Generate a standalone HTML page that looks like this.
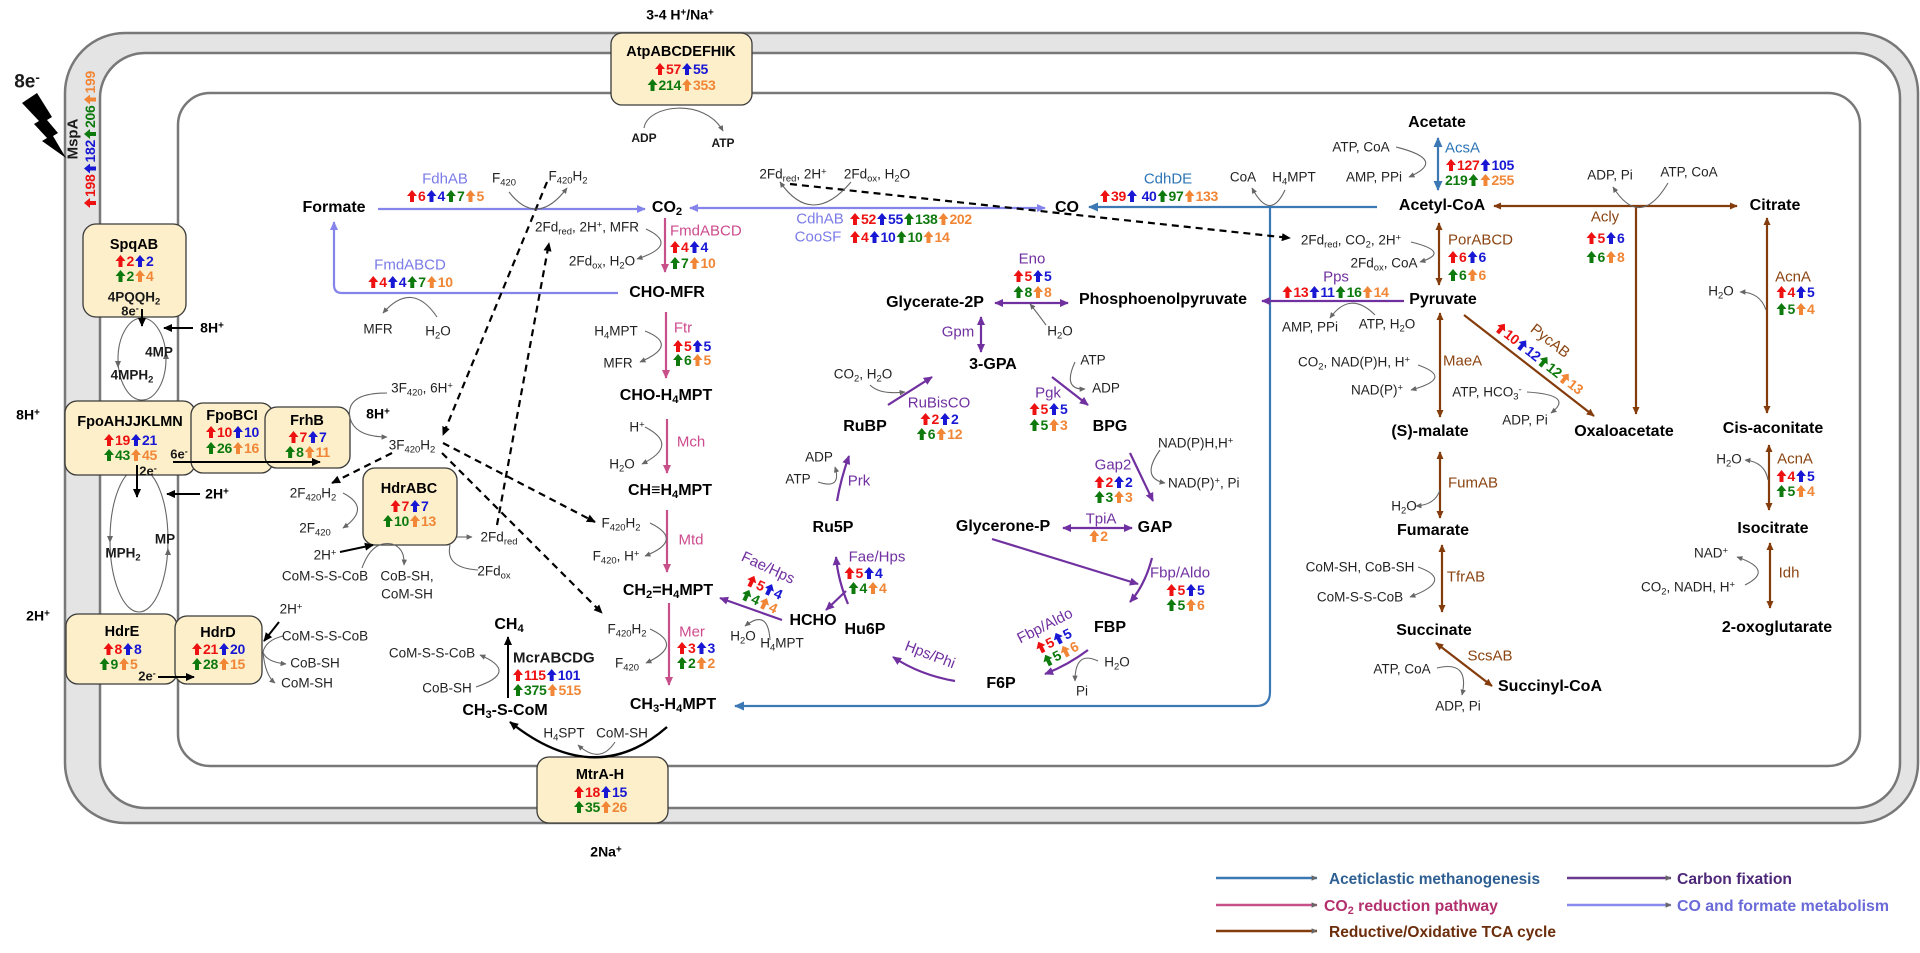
<!DOCTYPE html>
<html><head><meta charset="utf-8"><style>
body{margin:0;width:1920px;height:953px;position:relative;overflow:hidden;background:#fff;font-family:"Liberation Sans","DejaVu Sans",sans-serif;color:#1a1a1a}
svg{position:absolute;left:0;top:0}
.t,.l{position:absolute;white-space:nowrap;line-height:1}
.t{transform:translate(-50%,-50%)}
.l{transform:translateY(-50%)}
.m{font-weight:bold;font-size:16px;color:#000}
.k{font-weight:bold;font-size:14.5px;color:#000}
.s{font-size:13.5px;color:#222}
.e{font-size:15px}
.bl{font-weight:bold;font-size:14px;color:#000}
.n{font-weight:bold;font-size:14px;letter-spacing:-.3px}
.n i{display:inline-block;width:10px;height:12px;background:currentColor;clip-path:polygon(50% 0,100% 50%,70% 50%,70% 100%,30% 100%,30% 50%,0 50%);vertical-align:-1px;margin:0 1px}
.r{color:#ee1111}.b{color:#1717d4}.g{color:#0e7a0e}.o{color:#f08636}
.cl{color:#7b7be8}.cp{color:#cd4b8d}.cu{color:#7030a0}.cr{color:#8b4513}.ca{color:#2e75b6}
sub,sup{font-size:70%;position:relative;vertical-align:baseline}
sub{top:.3em}sup{top:-.45em}
</style></head><body>
<svg width="1920" height="953" viewBox="0 0 1920 953">
<defs>
<marker id="k" viewBox="0 0 10 10" refX="9" refY="5" markerWidth="9" markerHeight="9" markerUnits="userSpaceOnUse" orient="auto-start-reverse"><path d="M0,0.5L10,5L0,9.5z" fill="#000"/></marker>
<marker id="L" viewBox="0 0 10 10" refX="9" refY="5" markerWidth="9" markerHeight="9" markerUnits="userSpaceOnUse" orient="auto-start-reverse"><path d="M0,0.5L10,5L0,9.5z" fill="#8484ea"/></marker>
<marker id="P" viewBox="0 0 10 10" refX="9" refY="5" markerWidth="9" markerHeight="9" markerUnits="userSpaceOnUse" orient="auto-start-reverse"><path d="M0,0.5L10,5L0,9.5z" fill="#c8508a"/></marker>
<marker id="U" viewBox="0 0 10 10" refX="9" refY="5" markerWidth="9" markerHeight="9" markerUnits="userSpaceOnUse" orient="auto-start-reverse"><path d="M0,0.5L10,5L0,9.5z" fill="#7030a0"/></marker>
<marker id="R" viewBox="0 0 10 10" refX="9" refY="5" markerWidth="8" markerHeight="8" markerUnits="userSpaceOnUse" orient="auto-start-reverse"><path d="M0,0.5L10,5L0,9.5z" fill="#843c0c"/></marker>
<marker id="A" viewBox="0 0 10 10" refX="9" refY="5" markerWidth="10" markerHeight="10" markerUnits="userSpaceOnUse" orient="auto-start-reverse"><path d="M0,0.5L10,5L0,9.5z" fill="#3b78b4"/></marker>
<marker id="G" viewBox="0 0 10 10" refX="9" refY="5" markerWidth="6" markerHeight="6" markerUnits="userSpaceOnUse" orient="auto-start-reverse"><path d="M0,0.5L10,5L0,9.5z" fill="#666"/></marker>
</defs>
<!-- membranes -->
<rect x="65" y="33" width="1853" height="790" rx="60" fill="#e4e4e4" stroke="#787878" stroke-width="2.5"/>
<rect x="100" y="53" width="1800" height="755" rx="45" fill="#fff" stroke="#787878" stroke-width="2.5"/>
<rect x="178" y="93" width="1682" height="673" rx="32" fill="none" stroke="#787878" stroke-width="2.5"/>
<!-- lightning -->
<polygon points="22,103 37,93 52,117 47,120 58,133 53,136 66,158 42,141 47,138 34,124 39,121" fill="#000"/>
<!-- loops -->
<g fill="none" stroke="#666" stroke-width="1.1">
<ellipse cx="142" cy="359" rx="24" ry="41"/>
<ellipse cx="139" cy="540" rx="29" ry="72"/>
</g>
<g fill="#666">
<polygon points="115,361 121,361 118,368"/>
<polygon points="163,359 169,359 166,352"/>
<polygon points="107,536 113,536 110,543"/>
<polygon points="165,555 171,555 168,548"/>
</g>
<!-- boxes -->
<g fill="#fcefca" stroke="#3a3a3a" stroke-width="1.3">
<rect x="611" y="33" width="141" height="72" rx="11"/>
<rect x="83" y="224" width="103" height="93" rx="13"/>
<rect x="65" y="401" width="130" height="74" rx="12"/>
<rect x="191" y="403" width="82" height="70" rx="12"/>
<rect x="265" y="407" width="85" height="61" rx="12"/>
<rect x="363" y="468" width="94" height="77" rx="12"/>
<rect x="66" y="614" width="111" height="70" rx="12"/>
<rect x="175" y="616" width="87" height="68" rx="12"/>
<rect x="537" y="757" width="131" height="66" rx="12"/>
</g>
<!-- lavender -->
<g fill="none" stroke="#8484ea" stroke-width="2.2">
<path d="M378,209H645" marker-end="url(#L)"/>
<path d="M618,293H342Q334,293 334,285V222" marker-end="url(#L)"/>
<path d="M690,208H1045" marker-start="url(#L)" marker-end="url(#L)"/>
</g>
<!-- pink -->
<g fill="none" stroke="#c8508a" stroke-width="2.2" marker-end="url(#P)">
<path d="M665,218V272"/>
<path d="M666,312V378"/>
<path d="M667,419V473"/>
<path d="M667,510V572"/>
<path d="M669,603V685"/>
</g>
<!-- blue -->
<g fill="none" stroke="#3b78b4" stroke-width="2.2">
<path d="M1377,207H1089" marker-end="url(#A)"/>
<path d="M1270,207V692Q1270,706 1256,706H735" marker-end="url(#A)"/>
<path d="M1438,138V190" marker-start="url(#A)" marker-end="url(#A)"/>
</g>
<!-- brown -->
<g fill="none" stroke="#843c0c" stroke-width="2.2">
<path d="M1494,206H1737" marker-start="url(#R)" marker-end="url(#R)"/>
<path d="M1636,206V414" marker-end="url(#R)"/>
<path d="M1439,223V285" marker-start="url(#R)" marker-end="url(#R)"/>
<path d="M1440,313V417" marker-start="url(#R)" marker-end="url(#R)"/>
<path d="M1464,315L1594,416" marker-end="url(#R)"/>
<path d="M1767,413V218" marker-start="url(#R)" marker-end="url(#R)"/>
<path d="M1769,445V510" marker-start="url(#R)" marker-end="url(#R)"/>
<path d="M1770,543V608" marker-start="url(#R)" marker-end="url(#R)"/>
<path d="M1440,452V518" marker-start="url(#R)" marker-end="url(#R)"/>
<path d="M1442,545V612" marker-start="url(#R)" marker-end="url(#R)"/>
<path d="M1436,643L1492,686" marker-start="url(#R)" marker-end="url(#R)"/>
</g>
<!-- purple -->
<g fill="none" stroke="#7030a0" stroke-width="2.2">
<path d="M1404,301H1262" marker-end="url(#U)"/>
<path d="M995,303H1068" marker-start="url(#U)" marker-end="url(#U)"/>
<path d="M981,317V352" marker-start="url(#U)" marker-end="url(#U)"/>
<path d="M888,405L932,377" marker-end="url(#U)"/>
<path d="M1052,377L1088,405" marker-end="url(#U)"/>
<path d="M1130,453L1153,501" marker-end="url(#U)"/>
<path d="M1063,528H1132" marker-start="url(#U)" marker-end="url(#U)"/>
<path d="M992,539L1138,584" marker-end="url(#U)"/>
<path d="M1152,558Q1145,585 1130,602" marker-end="url(#U)"/>
<path d="M1088,650Q1068,665 1045,674" marker-end="url(#U)"/>
<path d="M955,681Q920,675 893,657" marker-end="url(#U)"/>
<path d="M848,604Q838,580 836,557" marker-end="url(#U)"/>
<path d="M846,591L826,610" marker-end="url(#U)"/>
<path d="M782,620L720,598" marker-end="url(#U)"/>
<path d="M837,501Q841,478 849,456" marker-end="url(#U)"/>
</g>
<!-- black solid -->
<g fill="none" stroke="#000" stroke-width="2" marker-end="url(#k)">
<path d="M508,698V637"/>
<path d="M667,727Q595,790 510,722" stroke-width="2.4"/>
<path d="M142,309V326"/>
<path d="M193,328H164"/>
<path d="M137,465V497"/>
<path d="M200,494H167"/>
<path d="M173,462H320"/>
<path d="M158,677H194"/>
<path d="M279,622L264,641"/>
<path d="M340,552L373,545"/>
</g>
<!-- dashed -->
<g fill="none" stroke="#000" stroke-width="2.2" stroke-dasharray="7 5" marker-end="url(#k)">
<path d="M547,182L443,435"/>
<path d="M497,525L549,243"/>
<path d="M443,443L595,522"/>
<path d="M442,453L602,613"/>
<path d="M392,453L332,483"/>
<path d="M790,184L1290,238"/>
</g>
<!-- gray side arcs -->
<g fill="none" stroke="#666" stroke-width="1.1" marker-end="url(#G)">
<path d="M644,128C648,104 705,98 723,131"/>
<path d="M509,192Q537,228 567,188"/>
<path d="M437,317Q412,280 383,313"/>
<path d="M646,229Q680,245 637,259"/>
<path d="M851,182Q812,228 780,182"/>
<path d="M1285,190Q1270,222 1252,188"/>
<path d="M1396,147Q1448,160 1409,177"/>
<path d="M1668,183Q1640,230 1613,187"/>
<path d="M1411,242Q1452,252 1420,262"/>
<path d="M1375,315Q1350,290 1330,318"/>
<path d="M1418,365Q1455,378 1411,390"/>
<path d="M1527,392Q1575,395 1551,413"/>
<path d="M1766,310Q1760,292 1740,292"/>
<path d="M1768,480Q1765,462 1745,460"/>
<path d="M1745,585Q1775,570 1737,557"/>
<path d="M1440,490Q1435,505 1416,506"/>
<path d="M1418,567Q1455,580 1410,597"/>
<path d="M1437,668Q1470,660 1462,695"/>
<path d="M645,331Q680,345 640,362"/>
<path d="M645,427Q680,445 642,464"/>
<path d="M650,523Q685,540 645,556"/>
<path d="M650,629Q685,645 646,663"/>
<path d="M476,687Q520,672 480,655"/>
<path d="M615,742Q600,765 578,745"/>
<path d="M1046,325Q1035,310 1030,304"/>
<path d="M870,385Q880,395 905,392"/>
<path d="M1075,362Q1062,390 1085,389"/>
<path d="M1160,450Q1140,478 1165,483"/>
<path d="M818,482Q842,490 835,467"/>
<path d="M1098,661Q1075,650 1075,681"/>
<path d="M770,640Q768,608 745,626"/>
<path d="M457,537H472"/>
<path d="M362,568Q372,540 392,544Q405,548 404,565"/>
<path d="M343,493Q372,508 343,528"/>
<path d="M387,393Q345,393 350,418Q355,437 387,437"/>
<path d="M283,636Q266,640 263,652Q266,662 286,664"/>
<path d="M263,652Q265,675 275,683"/>
</g>
<path d="M450,545Q445,568 478,570" fill="none" stroke="#666" stroke-width="1.1"/>
<!-- legend -->
<g stroke-width="2.5" fill="none">
<path d="M1216,878H1317" stroke="#3b78b4" marker-end="url(#G)"/>
<path d="M1567,878H1671" stroke="#6a3a8e" marker-end="url(#G)"/>
<path d="M1216,905H1317" stroke="#c8508a" marker-end="url(#G)"/>
<path d="M1567,905H1671" stroke="#8a8aee" marker-end="url(#G)"/>
<path d="M1216,931H1317" stroke="#843c0c" marker-end="url(#G)"/>
</g>
<g font-family="Liberation Sans, sans-serif" font-weight="bold" font-size="16">
<text x="1329" y="884" textLength="211" lengthAdjust="spacingAndGlyphs" fill="#2e5f92">Aceticlastic methanogenesis</text>
<text x="1677" y="884" textLength="115" lengthAdjust="spacingAndGlyphs" fill="#4e2878">Carbon fixation</text>
<text x="1324" y="911" textLength="174" lengthAdjust="spacingAndGlyphs" fill="#b3306e">CO<tspan font-size="11" dy="3">2</tspan><tspan dy="-3"> reduction pathway</tspan></text>
<text x="1677" y="911" textLength="212" lengthAdjust="spacingAndGlyphs" fill="#6a6ad8">CO and formate metabolism</text>
<text x="1329" y="937" textLength="227" lengthAdjust="spacingAndGlyphs" fill="#6b2d0a">Reductive/Oxidative TCA cycle</text>
</g>
</svg>

<!-- ===== TEXT ===== -->
<div class="t bl" style="left:680px;top:15px">3-4 H<sup>+</sup>/Na<sup>+</sup></div>
<div class="t k" style="left:681px;top:52px">AtpABCDEFHIK</div>
<div class="t n" style="left:681px;top:69px"><span class=r><i></i>57</span><span class=b><i></i>55</span></div>
<div class="t n" style="left:681px;top:85px"><span class=g><i></i>214</span><span class=o><i></i>353</span></div>
<div class="t" style="left:644px;top:138px;font-size:12px;font-weight:bold">ADP</div>
<div class="t" style="left:723px;top:143px;font-size:12px;font-weight:bold">ATP</div>

<div class="t" style="left:27px;top:82px;font-weight:bold;font-size:19px">8e<sup>-</sup></div>
<div class="t" style="left:73px;top:139px;font-weight:bold;font-size:15px;transform:translate(-50%,-50%) rotate(-90deg)">MspA</div>
<div class="t n" style="left:90px;top:140px;transform:translate(-50%,-50%) rotate(-90deg)"><span class=r><i></i>198</span><span class=b><i></i>182</span><span class=g><i></i>206</span><span class=o><i></i>199</span></div>

<div class="t k" style="left:134px;top:245px">SpqAB</div>
<div class="t n" style="left:134px;top:261px"><span class=r><i></i>2</span><span class=b><i></i>2</span></div>
<div class="t n" style="left:134px;top:276px"><span class=g><i></i>2</span><span class=o><i></i>4</span></div>
<div class="t" style="left:134px;top:297px;font-weight:bold;font-size:13.5px">4PQQH<sub>2</sub></div>
<div class="t" style="left:130px;top:311px;font-weight:bold;font-size:13px">8e<sup>-</sup></div>
<div class="t bl" style="left:212px;top:328px">8H<sup>+</sup></div>
<div class="t" style="left:159px;top:352px;font-weight:bold;font-size:13.5px">4MP</div>
<div class="t" style="left:132px;top:375px;font-weight:bold;font-size:13.5px">4MPH<sub>2</sub></div>
<div class="t bl" style="left:28px;top:415px">8H<sup>+</sup></div>

<div class="t k" style="left:130px;top:422px">FpoAHJJKLMN</div>
<div class="t n" style="left:130px;top:440px"><span class=r><i></i>19</span><span class=b><i></i>21</span></div>
<div class="t n" style="left:130px;top:455px"><span class=g><i></i>43</span><span class=o><i></i>45</span></div>
<div class="t" style="left:179px;top:454px;font-weight:bold;font-size:13px">6e<sup>-</sup></div>
<div class="t" style="left:148px;top:471px;font-weight:bold;font-size:13px">2e<sup>-</sup></div>
<div class="t k" style="left:232px;top:416px">FpoBCI</div>
<div class="t n" style="left:232px;top:432px"><span class=r><i></i>10</span><span class=b><i></i>10</span></div>
<div class="t n" style="left:232px;top:448px"><span class=g><i></i>26</span><span class=o><i></i>16</span></div>
<div class="t k" style="left:307px;top:421px">FrhB</div>
<div class="t n" style="left:307px;top:437px"><span class=r><i></i>7</span><span class=b><i></i>7</span></div>
<div class="t n" style="left:307px;top:452px"><span class=g><i></i>8</span><span class=o><i></i>11</span></div>

<div class="t bl" style="left:217px;top:494px">2H<sup>+</sup></div>
<div class="t" style="left:165px;top:539px;font-weight:bold;font-size:13.5px">MP</div>
<div class="t" style="left:123px;top:553px;font-weight:bold;font-size:13.5px">MPH<sub>2</sub></div>
<div class="t bl" style="left:38px;top:616px">2H<sup>+</sup></div>

<div class="t k" style="left:122px;top:632px">HdrE</div>
<div class="t n" style="left:122px;top:649px"><span class=r><i></i>8</span><span class=b><i></i>8</span></div>
<div class="t n" style="left:118px;top:664px"><span class=g><i></i>9</span><span class=o><i></i>5</span></div>
<div class="t" style="left:147px;top:676px;font-weight:bold;font-size:13px">2e<sup>-</sup></div>
<div class="t k" style="left:218px;top:633px">HdrD</div>
<div class="t n" style="left:218px;top:649px"><span class=r><i></i>21</span><span class=b><i></i>20</span></div>
<div class="t n" style="left:218px;top:664px"><span class=g><i></i>28</span><span class=o><i></i>15</span></div>
<div class="t s" style="left:291px;top:609px">2H<sup>+</sup></div>
<div class="t s" style="left:325px;top:636px">CoM-S-S-CoB</div>
<div class="t s" style="left:315px;top:663px">CoB-SH</div>
<div class="t s" style="left:307px;top:683px">CoM-SH</div>

<div class="t s" style="left:313px;top:493px">2F<sub>420</sub>H<sub>2</sub></div>
<div class="t s" style="left:315px;top:528px">2F<sub>420</sub></div>
<div class="t s" style="left:325px;top:555px">2H<sup>+</sup></div>
<div class="t s" style="left:325px;top:576px">CoM-S-S-CoB</div>
<div class="t s" style="left:407px;top:576px">CoB-SH,</div>
<div class="t s" style="left:407px;top:594px">CoM-SH</div>
<div class="t k" style="left:409px;top:489px">HdrABC</div>
<div class="t n" style="left:409px;top:506px"><span class=r><i></i>7</span><span class=b><i></i>7</span></div>
<div class="t n" style="left:409px;top:521px"><span class=g><i></i>10</span><span class=o><i></i>13</span></div>
<div class="t s" style="left:499px;top:537px">2Fd<sub>red</sub></div>
<div class="t s" style="left:494px;top:571px">2Fd<sub>ox</sub></div>
<div class="t s" style="left:422px;top:388px">3F<sub>420</sub>, 6H<sup>+</sup></div>
<div class="t bl" style="left:378px;top:414px">8H<sup>+</sup></div>
<div class="t s" style="left:412px;top:445px">3F<sub>420</sub>H<sub>2</sub></div>
<div class="t s" style="left:378px;top:329px">MFR</div>
<div class="t s" style="left:438px;top:331px">H<sub>2</sub>O</div>

<!-- formate / CO2 -->
<div class="t m" style="left:334px;top:208px">Formate</div>
<div class="t m" style="left:667px;top:208px">CO<sub>2</sub></div>
<div class="t m" style="left:667px;top:293px">CHO-MFR</div>
<div class="t e cl" style="left:445px;top:179px">FdhAB</div>
<div class="t n" style="left:445px;top:196px"><span class=r><i></i>6</span><span class=b><i></i>4</span><span class=g><i></i>7</span><span class=o><i></i>5</span></div>
<div class="t s" style="left:504px;top:178px">F<sub>420</sub></div>
<div class="t s" style="left:568px;top:176px">F<sub>420</sub>H<sub>2</sub></div>
<div class="t e cl" style="left:410px;top:265px">FmdABCD</div>
<div class="t n" style="left:410px;top:282px"><span class=r><i></i>4</span><span class=b><i></i>4</span><span class=g><i></i>7</span><span class=o><i></i>10</span></div>
<div class="t s" style="left:587px;top:227px">2Fd<sub>red</sub>, 2H<sup>+</sup>, MFR</div>
<div class="t s" style="left:602px;top:261px">2Fd<sub>ox</sub>, H<sub>2</sub>O</div>
<div class="l e cp" style="left:670px;top:231px">FmdABCD</div>
<div class="l n" style="left:669px;top:247px"><span class=r><i></i>4</span><span class=b><i></i>4</span></div>
<div class="l n" style="left:669px;top:263px"><span class=g><i></i>7</span><span class=o><i></i>10</span></div>

<div class="t s" style="left:793px;top:174px">2Fd<sub>red</sub>, 2H<sup>+</sup></div>
<div class="t s" style="left:877px;top:174px">2Fd<sub>ox</sub>, H<sub>2</sub>O</div>
<div class="t e cl" style="left:820px;top:219px">CdhAB</div>
<div class="l n" style="left:849px;top:219px"><span class=r><i></i>52</span><span class=b><i></i>55</span><span class=g><i></i>138</span><span class=o><i></i>202</span></div>
<div class="t e cl" style="left:818px;top:237px">CooSF</div>
<div class="l n" style="left:849px;top:237px"><span class=r><i></i>4</span><span class=b><i></i>10</span><span class=g><i></i>10</span><span class=o><i></i>14</span></div>
<div class="t m" style="left:1067px;top:208px">CO</div>
<div class="t e ca" style="left:1168px;top:179px">CdhDE</div>
<div class="l n" style="left:1099px;top:196px"><span class=r><i></i>39</span><span class=b><i></i> 40</span><span class=g><i></i>97</span><span class=o><i></i>133</span></div>
<div class="t s" style="left:1243px;top:177px">CoA</div>
<div class="t s" style="left:1294px;top:177px">H<sub>4</sub>MPT</div>

<!-- acetate / TCA -->
<div class="t m" style="left:1437px;top:123px">Acetate</div>
<div class="t m" style="left:1442px;top:206px">Acetyl-CoA</div>
<div class="l e ca" style="left:1445px;top:148px">AcsA</div>
<div class="l n" style="left:1445px;top:165px"><span class=r><i></i>127</span><span class=b><i></i>105</span></div>
<div class="l n" style="left:1445px;top:180px"><span class=g>219<i></i></span><span class=o><i></i>255</span></div>
<div class="t s" style="left:1361px;top:147px">ATP, CoA</div>
<div class="t s" style="left:1374px;top:177px">AMP, PPi</div>
<div class="t m" style="left:1775px;top:206px">Citrate</div>
<div class="t s" style="left:1610px;top:175px">ADP, Pi</div>
<div class="t s" style="left:1689px;top:172px">ATP, CoA</div>
<div class="t e cr" style="left:1605px;top:217px">Acly</div>
<div class="t n" style="left:1605px;top:238px"><span class=r><i></i>5</span><span class=b><i></i>6</span></div>
<div class="t n" style="left:1605px;top:257px"><span class=g><i></i>6</span><span class=o><i></i>8</span></div>
<div class="t s" style="left:1351px;top:240px">2Fd<sub>red</sub>, CO<sub>2</sub>, 2H<sup>+</sup></div>
<div class="t s" style="left:1384px;top:263px">2Fd<sub>ox</sub>, CoA</div>
<div class="l e cr" style="left:1448px;top:240px">PorABCD</div>
<div class="l n" style="left:1447px;top:257px"><span class=r><i></i>6</span><span class=b><i></i>6</span></div>
<div class="l n" style="left:1447px;top:275px"><span class=g><i></i>6</span><span class=o><i></i>6</span></div>
<div class="t m" style="left:1443px;top:300px">Pyruvate</div>
<div class="t m" style="left:1163px;top:300px">Phosphoenolpyruvate</div>
<div class="t e cu" style="left:1336px;top:277px">Pps</div>
<div class="t n" style="left:1335px;top:292px"><span class=r><i></i>13</span><span class=b><i></i>11</span><span class=g><i></i>16</span><span class=o><i></i>14</span></div>
<div class="t s" style="left:1310px;top:327px">AMP, PPi</div>
<div class="t s" style="left:1387px;top:324px">ATP, H<sub>2</sub>O</div>
<div class="l e cr" style="left:1443px;top:361px">MaeA</div>
<div class="t s" style="left:1354px;top:362px">CO<sub>2</sub>, NAD(P)H, H<sup>+</sup></div>
<div class="t s" style="left:1377px;top:390px">NAD(P)<sup>+</sup></div>
<div class="t e cr" style="left:1550px;top:341px;transform:translate(-50%,-50%) rotate(38deg)">PycAB</div>
<div class="t n" style="left:1539px;top:358px;transform:translate(-50%,-50%) rotate(38deg)"><span class=r><i></i>10</span><span class=b><i></i>12</span><span class=g><i></i>12</span><span class=o><i></i>13</span></div>
<div class="t s" style="left:1487px;top:392px">ATP, HCO<sub>3</sub><sup>-</sup></div>
<div class="t s" style="left:1525px;top:420px">ADP, Pi</div>
<div class="t m" style="left:1430px;top:432px">(S)-malate</div>
<div class="t m" style="left:1624px;top:432px">Oxaloacetate</div>
<div class="t m" style="left:1773px;top:429px">Cis-aconitate</div>
<div class="t e cr" style="left:1793px;top:277px">AcnA</div>
<div class="t n" style="left:1795px;top:292px"><span class=r><i></i>4</span><span class=b><i></i>5</span></div>
<div class="t n" style="left:1795px;top:309px"><span class=g><i></i>5</span><span class=o><i></i>4</span></div>
<div class="t s" style="left:1721px;top:291px">H<sub>2</sub>O</div>
<div class="t e cr" style="left:1795px;top:459px">AcnA</div>
<div class="t n" style="left:1795px;top:476px"><span class=r><i></i>4</span><span class=b><i></i>5</span></div>
<div class="t n" style="left:1795px;top:491px"><span class=g><i></i>5</span><span class=o><i></i>4</span></div>
<div class="t s" style="left:1729px;top:459px">H<sub>2</sub>O</div>
<div class="t m" style="left:1773px;top:529px">Isocitrate</div>
<div class="t e cr" style="left:1789px;top:573px">Idh</div>
<div class="t s" style="left:1711px;top:553px">NAD<sup>+</sup></div>
<div class="t s" style="left:1688px;top:587px">CO<sub>2</sub>, NADH, H<sup>+</sup></div>
<div class="t m" style="left:1777px;top:628px">2-oxoglutarate</div>
<div class="t e cr" style="left:1473px;top:483px">FumAB</div>
<div class="t s" style="left:1404px;top:506px">H<sub>2</sub>O</div>
<div class="t m" style="left:1433px;top:531px">Fumarate</div>
<div class="t e cr" style="left:1466px;top:577px">TfrAB</div>
<div class="t s" style="left:1360px;top:567px">CoM-SH, CoB-SH</div>
<div class="t s" style="left:1360px;top:597px">CoM-S-S-CoB</div>
<div class="t m" style="left:1434px;top:631px">Succinate</div>
<div class="t e cr" style="left:1490px;top:656px">ScsAB</div>
<div class="t s" style="left:1402px;top:669px">ATP, CoA</div>
<div class="t s" style="left:1458px;top:706px">ADP, Pi</div>
<div class="t m" style="left:1550px;top:687px">Succinyl-CoA</div>

<!-- methanogenesis column -->
<div class="t e cp" style="left:683px;top:328px">Ftr</div>
<div class="l n" style="left:672px;top:346px"><span class=r><i></i>5</span><span class=b><i></i>5</span></div>
<div class="l n" style="left:672px;top:360px"><span class=g><i></i>6</span><span class=o><i></i>5</span></div>
<div class="t s" style="left:616px;top:331px">H<sub>4</sub>MPT</div>
<div class="t s" style="left:618px;top:363px">MFR</div>
<div class="t m" style="left:666px;top:396px">CHO-H<sub>4</sub>MPT</div>
<div class="t e cp" style="left:691px;top:442px">Mch</div>
<div class="t s" style="left:637px;top:427px">H<sup>+</sup></div>
<div class="t s" style="left:622px;top:464px">H<sub>2</sub>O</div>
<div class="t m" style="left:670px;top:491px">CH≡H<sub>4</sub>MPT</div>
<div class="t e cp" style="left:691px;top:540px">Mtd</div>
<div class="t s" style="left:621px;top:523px">F<sub>420</sub>H<sub>2</sub></div>
<div class="t s" style="left:616px;top:556px">F<sub>420</sub>, H<sup>+</sup></div>
<div class="t m" style="left:668px;top:591px">CH<sub>2</sub>=H<sub>4</sub>MPT</div>
<div class="t e cp" style="left:692px;top:632px">Mer</div>
<div class="l n" style="left:676px;top:648px"><span class=r><i></i>3</span><span class=b><i></i>3</span></div>
<div class="l n" style="left:676px;top:663px"><span class=g><i></i>2</span><span class=o><i></i>2</span></div>
<div class="t s" style="left:627px;top:629px">F<sub>420</sub>H<sub>2</sub></div>
<div class="t s" style="left:627px;top:663px">F<sub>420</sub></div>
<div class="t m" style="left:673px;top:705px">CH<sub>3</sub>-H<sub>4</sub>MPT</div>
<div class="t m" style="left:505px;top:711px">CH<sub>3</sub>-S-CoM</div>
<div class="t m" style="left:509px;top:625px">CH<sub>4</sub></div>
<div class="l" style="left:513px;top:658px;font-weight:bold;font-size:15px">McrABCDG</div>
<div class="l n" style="left:512px;top:675px"><span class=r><i></i>115</span><span class=b><i></i>101</span></div>
<div class="l n" style="left:512px;top:690px"><span class=g><i></i>375</span><span class=o><i></i>515</span></div>
<div class="t s" style="left:432px;top:653px">CoM-S-S-CoB</div>
<div class="t s" style="left:447px;top:688px">CoB-SH</div>
<div class="t s" style="left:564px;top:733px">H<sub>4</sub>SPT</div>
<div class="t s" style="left:622px;top:733px">CoM-SH</div>
<div class="t k" style="left:600px;top:775px">MtrA-H</div>
<div class="t n" style="left:600px;top:792px"><span class=r><i></i>18</span><span class=b><i></i>15</span></div>
<div class="t n" style="left:600px;top:807px"><span class=g><i></i>35</span><span class=o><i></i>26</span></div>
<div class="t bl" style="left:606px;top:852px">2Na<sup>+</sup></div>

<!-- carbon fixation -->
<div class="t m" style="left:935px;top:303px">Glycerate-2P</div>
<div class="t e cu" style="left:1032px;top:259px">Eno</div>
<div class="t n" style="left:1032px;top:276px"><span class=r><i></i>5</span><span class=b><i></i>5</span></div>
<div class="t n" style="left:1032px;top:292px"><span class=g><i></i>8</span><span class=o><i></i>8</span></div>
<div class="t s" style="left:1060px;top:331px">H<sub>2</sub>O</div>
<div class="t e cu" style="left:958px;top:332px">Gpm</div>
<div class="t m" style="left:993px;top:365px">3-GPA</div>
<div class="t s" style="left:863px;top:374px">CO<sub>2</sub>, H<sub>2</sub>O</div>
<div class="t e cu" style="left:939px;top:403px">RuBisCO</div>
<div class="t n" style="left:939px;top:419px"><span class=r><i></i>2</span><span class=b><i></i>2</span></div>
<div class="t n" style="left:939px;top:434px"><span class=g><i></i>6</span><span class=o><i></i>12</span></div>
<div class="t m" style="left:865px;top:427px">RuBP</div>
<div class="t s" style="left:1093px;top:360px">ATP</div>
<div class="t s" style="left:1106px;top:388px">ADP</div>
<div class="t e cu" style="left:1048px;top:393px">Pgk</div>
<div class="t n" style="left:1048px;top:409px"><span class=r><i></i>5</span><span class=b><i></i>5</span></div>
<div class="t n" style="left:1048px;top:425px"><span class=g><i></i>5</span><span class=o><i></i>3</span></div>
<div class="t m" style="left:1110px;top:427px">BPG</div>
<div class="l s" style="left:1158px;top:443px">NAD(P)H,H<sup>+</sup></div>
<div class="l s" style="left:1168px;top:483px">NAD(P)<sup>+</sup>, Pi</div>
<div class="t e cu" style="left:1113px;top:465px">Gap2</div>
<div class="t n" style="left:1113px;top:482px"><span class=r><i></i>2</span><span class=b><i></i>2</span></div>
<div class="t n" style="left:1113px;top:497px"><span class=g><i></i>3</span><span class=o><i></i>3</span></div>
<div class="t m" style="left:1155px;top:528px">GAP</div>
<div class="t m" style="left:1003px;top:527px">Glycerone-P</div>
<div class="t e cu" style="left:1101px;top:519px">TpiA</div>
<div class="t n" style="left:1098px;top:536px"><span class=o><i></i>2</span></div>
<div class="l e cu" style="left:1150px;top:573px">Fbp/Aldo</div>
<div class="t n" style="left:1185px;top:590px"><span class=r><i></i>5</span><span class=b><i></i>5</span></div>
<div class="t n" style="left:1185px;top:605px"><span class=g><i></i>5</span><span class=o><i></i>6</span></div>
<div class="t m" style="left:1110px;top:628px">FBP</div>
<div class="t e cu" style="left:1045px;top:626px;transform:translate(-50%,-50%) rotate(-27deg)">Fbp/Aldo</div>
<div class="t n" style="left:1053px;top:641px;transform:translate(-50%,-50%) rotate(-27deg)"><span class=r><i></i>5</span><span class=b><i></i>5</span></div>
<div class="t n" style="left:1060px;top:654px;transform:translate(-50%,-50%) rotate(-27deg)"><span class=g><i></i>5</span><span class=o><i></i>6</span></div>
<div class="t s" style="left:1117px;top:662px">H<sub>2</sub>O</div>
<div class="t s" style="left:1082px;top:691px">Pi</div>
<div class="t m" style="left:1001px;top:684px">F6P</div>
<div class="t e cu" style="left:930px;top:655px;transform:translate(-50%,-50%) rotate(21deg)">Hps/Phi</div>
<div class="t m" style="left:865px;top:630px">Hu6P</div>
<div class="t e cu" style="left:877px;top:557px">Fae/Hps</div>
<div class="t n" style="left:863px;top:573px"><span class=r><i></i>5</span><span class=b><i></i>4</span></div>
<div class="t n" style="left:867px;top:588px"><span class=g><i></i>4</span><span class=o><i></i>4</span></div>
<div class="t m" style="left:813px;top:621px">HCHO</div>
<div class="t e cu" style="left:768px;top:568px;transform:translate(-50%,-50%) rotate(25deg)">Fae/Hps</div>
<div class="t n" style="left:764px;top:587px;transform:translate(-50%,-50%) rotate(25deg)"><span class=r><i></i>5</span><span class=b><i></i>4</span></div>
<div class="t n" style="left:759px;top:601px;transform:translate(-50%,-50%) rotate(25deg)"><span class=g><i></i>4</span><span class=o><i></i>4</span></div>
<div class="t s" style="left:743px;top:636px">H<sub>2</sub>O</div>
<div class="t s" style="left:782px;top:643px">H<sub>4</sub>MPT</div>
<div class="t e cu" style="left:859px;top:481px">Prk</div>
<div class="t s" style="left:819px;top:457px">ADP</div>
<div class="t s" style="left:798px;top:479px">ATP</div>
<div class="t m" style="left:833px;top:528px">Ru5P</div>
</body></html>
